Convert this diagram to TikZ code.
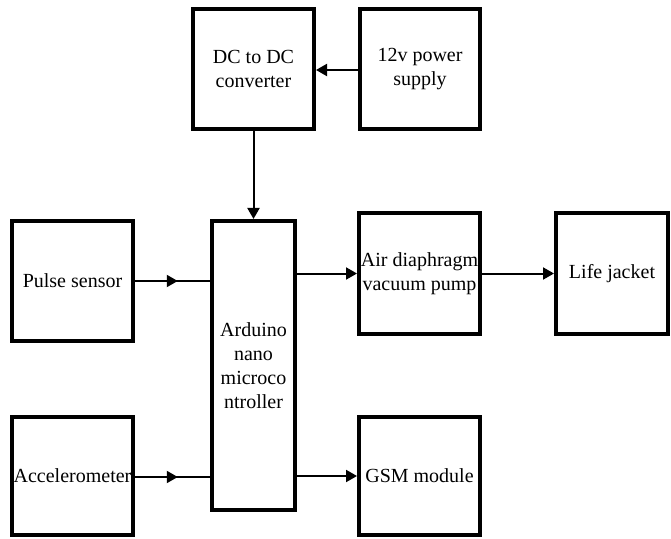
\documentclass[tikz,border=0pt]{standalone}
\usepackage{fontspec}
\setmainfont{Liberation Serif}
\usetikzlibrary{arrows.meta,decorations.markings}
\begin{document}
\begin{tikzpicture}[x=1bp,y=-1bp,
  blk/.style={draw, line width=4bp, inner sep=0pt, align=center,
    font=\fontsize{20bp}{24bp}\selectfont},
  conn/.style={line width=2bp, -{Triangle[width=12bp,length=11bp]}},
  midarr/.style={line width=2bp, postaction={decorate},
    decoration={markings, mark=at position 0.57 with {\arrow{Triangle[width=12bp,length=11bp]}}}}]
\useasboundingbox (0,0) rectangle (671,539);
\node[blk, minimum width=121bp, minimum height=120bp] (dc) at (253.5,69) {DC to DC\\converter};
\node[blk, minimum width=120bp, minimum height=120bp] (ps) at (420,69) {12v power\\supply};
\node[blk, minimum width=121bp, minimum height=120bp] (pulse) at (72.5,281) {Pulse sensor};
\node[blk, minimum width=83bp, minimum height=289bp] (ard) at (253.5,365.5) {Arduino\\nano\\microco\\ntroller};
\node[blk, minimum width=121bp, minimum height=121bp] (air) at (419.5,273.5) {Air diaphragm\\vacuum pump};
\node[blk, minimum width=112bp, minimum height=121bp] (life) at (612,273.5) {Life jacket};
\node[blk, minimum width=121bp, minimum height=118bp] (acc) at (72.5,476) {Accelerometer};
\node[blk, minimum width=121bp, minimum height=118bp] (gsm) at (419.5,476) {GSM module};
\draw[conn] (ps.west |- 0,70) -- (dc.east |- 0,70);
\draw[conn] (dc.south) -- (ard.north);
\draw[midarr] (pulse.east) -- (ard.west |- pulse.east);
\draw[midarr] (acc.east |- 0,477) -- (ard.west |- 0,477);
\draw[conn] (ard.east |- air.west) -- (air.west);
\draw[conn] (air.east) -- (life.west);
\draw[conn] (ard.east |- gsm.west) -- (gsm.west);
\end{tikzpicture}
\end{document}
